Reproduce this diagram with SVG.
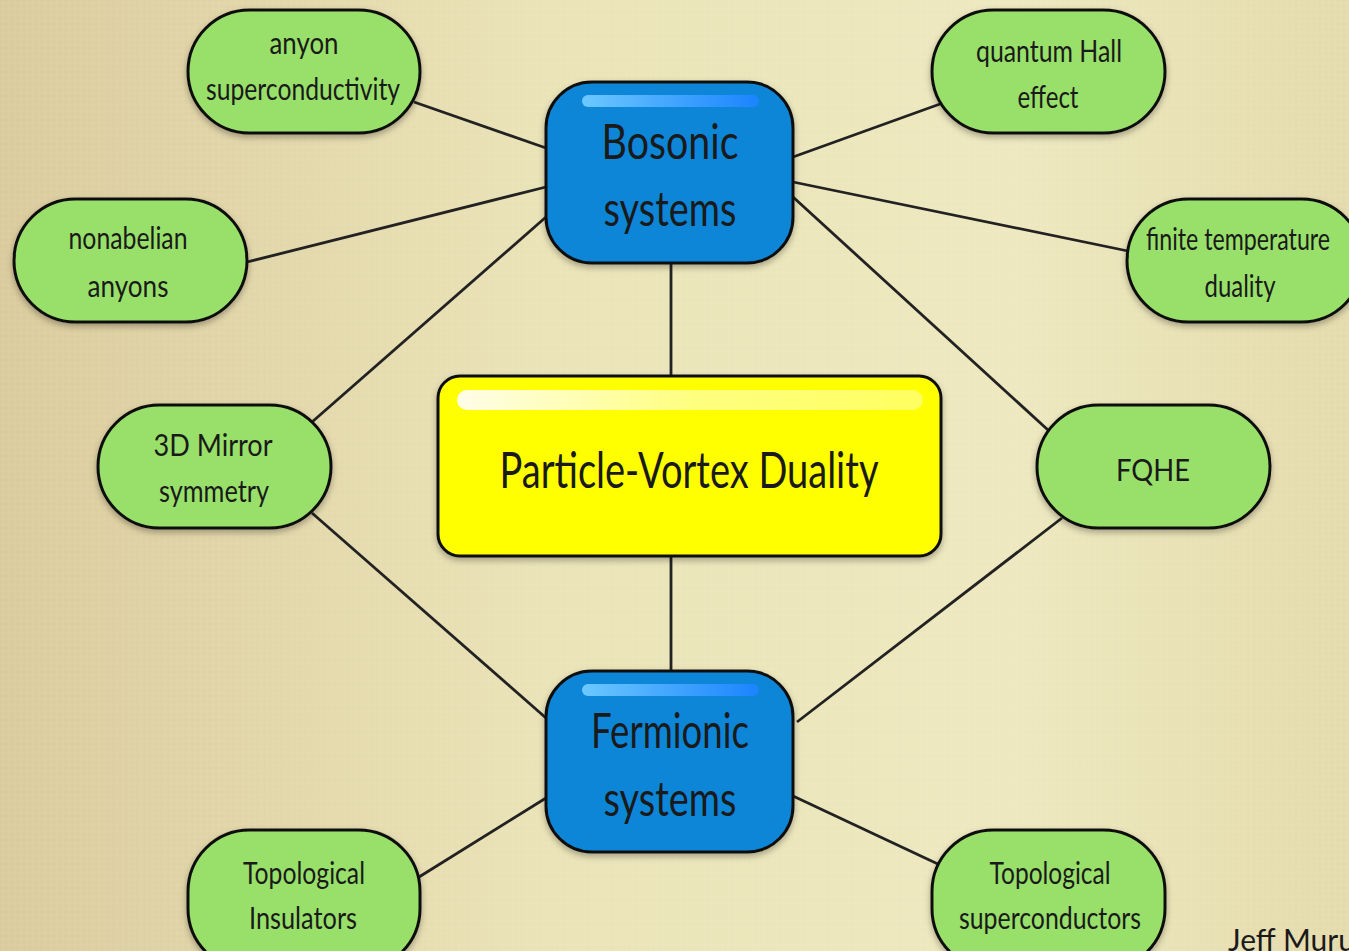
<svg xmlns="http://www.w3.org/2000/svg" width="1349" height="951" viewBox="0 0 1349 951">
<defs>
<linearGradient id="bg" x1="0" y1="0" x2="1" y2="0">
<stop offset="0" stop-color="#dacb9c"/>
<stop offset="0.4" stop-color="#eae3b7"/>
<stop offset="0.75" stop-color="#ede8bf"/>
<stop offset="1" stop-color="#e4dbac"/>
</linearGradient>
<linearGradient id="bhl" x1="0" y1="0" x2="1" y2="0">
<stop offset="0" stop-color="#6cc8ff"/>
<stop offset="1" stop-color="#1a84ff"/>
</linearGradient>
<linearGradient id="yhl" x1="0" y1="0" x2="1" y2="0">
<stop offset="0" stop-color="#fffde8"/>
<stop offset="0.5" stop-color="#ffff80"/>
<stop offset="1" stop-color="#ffff60"/>
</linearGradient>
<filter id="sh" x="-10%" y="-10%" width="120%" height="130%">
<feDropShadow dx="0" dy="3" stdDeviation="3" flood-color="#000" flood-opacity="0.3"/>
</filter>
<pattern id="weave" width="6" height="6" patternUnits="userSpaceOnUse">
<line x1="3" y1="0" x2="3" y2="6" stroke="#fff" stroke-opacity="0.06" stroke-width="1"/>
<line x1="0" y1="3" x2="6" y2="3" stroke="#fff" stroke-opacity="0.06" stroke-width="1"/>
</pattern>
</defs>
<style>
.green{fill:#98e06a;stroke:#111;stroke-width:3}
.blue{fill:#0a86d8;stroke:#111;stroke-width:3}
.yellow{fill:#ffff00;stroke:#111;stroke-width:3}
.conn line{stroke:#222;stroke-width:2.8}
text{font-family:Lato,"Open Sans",sans-serif;fill:#1a1a1a;text-anchor:middle}
.s{font-size:30px}
.b{font-size:48px}
.y{font-size:50px}
</style>
<rect width="1349" height="951" fill="url(#bg)"/>
<rect width="1349" height="951" fill="url(#weave)"/>

<g id="connectors" class="conn">
<line x1="671" y1="263" x2="671" y2="376"/>
<line x1="671" y1="556" x2="671" y2="671"/>
<line x1="414" y1="102" x2="546" y2="148"/>
<line x1="247" y1="262" x2="546" y2="187"/>
<line x1="312" y1="422" x2="546" y2="217"/>
<line x1="312" y1="513" x2="546" y2="718"/>
<line x1="419" y1="877" x2="546" y2="798"/>
<line x1="940" y1="104" x2="793" y2="157"/>
<line x1="1128" y1="251" x2="793" y2="182"/>
<line x1="1048" y1="430" x2="793" y2="197"/>
<line x1="1062" y1="518" x2="797" y2="722"/>
<line x1="940" y1="865" x2="793" y2="796"/>
</g>

<g id="anyon-superconductivity">
<rect class="green" x="188" y="10" width="232" height="123" rx="61.5" filter="url(#sh)"/>
<text class="s" x="304" y="54" textLength="69" lengthAdjust="spacingAndGlyphs">anyon</text>
<text class="s" x="303" y="100" textLength="194" lengthAdjust="spacingAndGlyphs">superconductivity</text>
</g>
<g id="nonabelian-anyons">
<rect class="green" x="14" y="199" width="233" height="123" rx="61.5" filter="url(#sh)"/>
<text class="s" x="128" y="249" textLength="119" lengthAdjust="spacingAndGlyphs">nonabelian</text>
<text class="s" x="128" y="297" textLength="81" lengthAdjust="spacingAndGlyphs">anyons</text>
</g>
<g id="mirror-symmetry">
<rect class="green" x="98" y="405" width="233" height="123" rx="61.5" filter="url(#sh)"/>
<text class="s" x="213" y="456" textLength="119" lengthAdjust="spacingAndGlyphs">3D Mirror</text>
<text class="s" x="214" y="502" textLength="110" lengthAdjust="spacingAndGlyphs">symmetry</text>
</g>
<g id="topological-insulators">
<rect class="green" x="188" y="830" width="232" height="140" rx="61.5" filter="url(#sh)"/>
<text class="s" x="304" y="884" textLength="122" lengthAdjust="spacingAndGlyphs">Topological</text>
<text class="s" x="303" y="929" textLength="108" lengthAdjust="spacingAndGlyphs">Insulators</text>
</g>
<g id="quantum-hall">
<rect class="green" x="932" y="10" width="233" height="123" rx="61.5" filter="url(#sh)"/>
<text class="s" x="1049" y="62" textLength="146" lengthAdjust="spacingAndGlyphs">quantum Hall</text>
<text class="s" x="1048" y="108" textLength="61" lengthAdjust="spacingAndGlyphs">effect</text>
</g>
<g id="finite-temperature">
<rect class="green" x="1127" y="199" width="236" height="123" rx="61.5" filter="url(#sh)"/>
<text class="s" x="1238" y="250" textLength="184" lengthAdjust="spacingAndGlyphs">finite temperature</text>
<text class="s" x="1240" y="297" textLength="71" lengthAdjust="spacingAndGlyphs">duality</text>
</g>
<g id="fqhe">
<rect class="green" x="1037" y="405" width="233" height="123" rx="61.5" filter="url(#sh)"/>
<text class="s" x="1153" y="481" textLength="74" lengthAdjust="spacingAndGlyphs">FQHE</text>
</g>
<g id="topological-superconductors">
<rect class="green" x="932" y="830" width="233" height="140" rx="61.5" filter="url(#sh)"/>
<text class="s" x="1050" y="884" textLength="121" lengthAdjust="spacingAndGlyphs">Topological</text>
<text class="s" x="1050" y="929" textLength="182" lengthAdjust="spacingAndGlyphs">superconductors</text>
</g>

<g id="bosonic">
<rect class="blue" x="546" y="82" width="247" height="181" rx="46" filter="url(#sh)"/>
<rect x="582" y="95" width="177" height="12" rx="6" fill="url(#bhl)"/>
<text class="b" x="670" y="159" textLength="137" lengthAdjust="spacingAndGlyphs">Bosonic</text>
<text class="b" x="670" y="226" textLength="133" lengthAdjust="spacingAndGlyphs">systems</text>
</g>
<g id="particle-vortex">
<rect class="yellow" x="438" y="376" width="503" height="180" rx="22" filter="url(#sh)"/>
<rect x="457" y="390" width="466" height="20" rx="10" fill="url(#yhl)"/>
<text class="y" x="689" y="488" textLength="379" lengthAdjust="spacingAndGlyphs">Particle-Vortex Duality</text>
</g>
<g id="fermionic">
<rect class="blue" x="546" y="671" width="247" height="181" rx="46" filter="url(#sh)"/>
<rect x="582" y="684" width="177" height="12" rx="6" fill="url(#bhl)"/>
<text class="b" x="670" y="748" textLength="158" lengthAdjust="spacingAndGlyphs">Fermionic</text>
<text class="b" x="670" y="816" textLength="133" lengthAdjust="spacingAndGlyphs">systems</text>
</g>

<text x="1228" y="951" style="font-size:30px;text-anchor:start">Jeff Murugan</text>
</svg>
